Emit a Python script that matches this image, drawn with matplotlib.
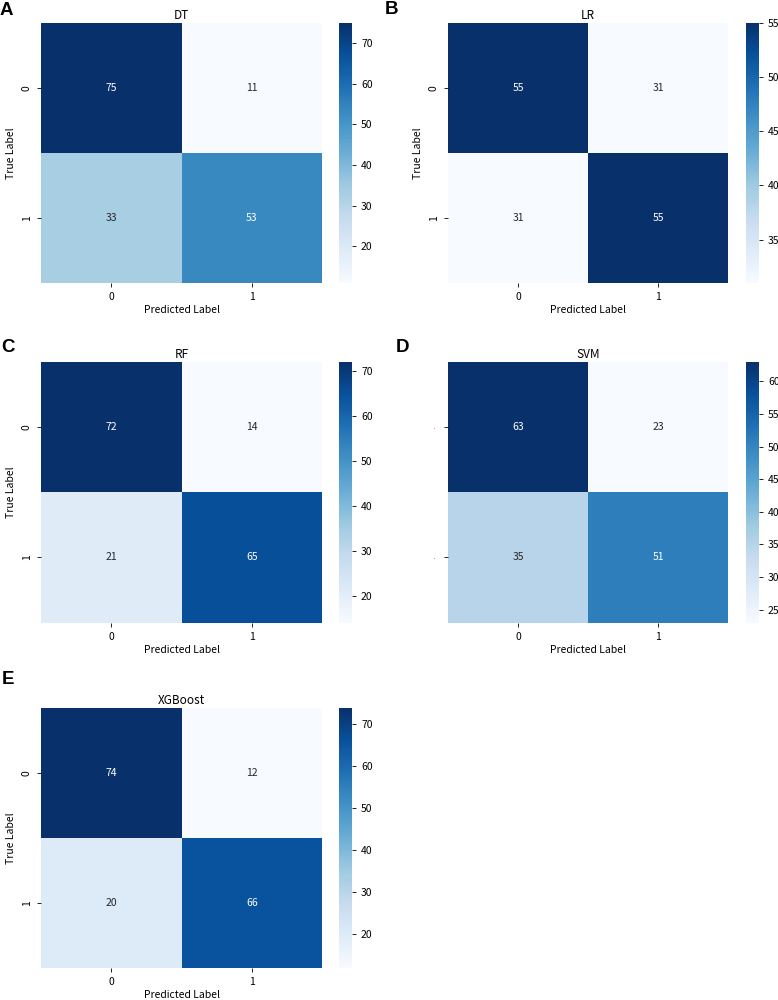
import numpy as np
import matplotlib
matplotlib.use("Agg")
import matplotlib.pyplot as plt
import seaborn as sns

plt.rcParams['font.family'] = ['Noto Sans CJK KR', 'DejaVu Sans']

# confusion matrices
models = ["DT", "LR", "RF", "SVM", "XGBoost"]
letters = ["A", "B", "C", "D", "E"]
cm_dt = [[75, 11], [33, 53]]
cm_lr = [[55, 31], [31, 55]]
cm_rf = [[72, 14], [21, 65]]
cm_svm = [[63, 23], [35, 51]]
cm_xgb = [[74, 12], [20, 66]]
class_labels = ["0", "1"]

matrices = [cm_dt, cm_lr, cm_rf, cm_svm, cm_xgb]

W, H = 778, 1000
fig = plt.figure(figsize=(W / 100, H / 100), dpi=100)

# pixel boxes (left, top, right, bottom) of each heatmap, colorbar x-range, letter pos
hm_boxes = [(41, 22.7, 322, 283), (448, 22.7, 728, 283),
            (41, 361.7, 322, 622.7), (448, 361.7, 728, 622.7),
            (41, 707.7, 322, 968)]
cb_x = [(339, 352), (746, 759), (339, 352), (746, 759), (339, 352)]
letter_pos = [(0, 2), (385, 1), (1, 339), (396, 339), (2, 671)]

def px_axes(x0, y0, x1, y1):
    return fig.add_axes([x0 / W, 1 - y1 / H, (x1 - x0) / W, (y1 - y0) / H])

fs = 7.5
for i, cm in enumerate(matrices):
    x0, y0, x1, y1 = hm_boxes[i]
    ax = px_axes(x0, y0, x1, y1)
    cax = px_axes(cb_x[i][0], y0, cb_x[i][1], y1)
    sns.heatmap(np.array(cm), annot=True, fmt="d", cmap="Blues", ax=ax, cbar_ax=cax,
                xticklabels=class_labels, yticklabels=class_labels,
                annot_kws={"fontsize": fs})
    ax.set_title(models[i], fontsize=fs + 1, pad=3)
    ax.set_xlabel("Predicted Label", fontsize=fs, labelpad=2)
    ax.tick_params(axis="both", labelsize=fs, length=3, width=0.6)
    ax.set_yticklabels(class_labels, rotation=90, va="center")
    if models[i] == "SVM":
        # y tick labels are clipped to dots in the original
        ax.set_yticklabels(["'", "'"], fontsize=3)
        ax.set_ylabel("")
    else:
        ax.set_ylabel("True Label", fontsize=fs)
    cax.tick_params(labelsize=fs, length=3, width=0.6)
    fig.text(letter_pos[i][0] / W, 1 - letter_pos[i][1] / H, letters[i],
             fontsize=13.5, fontweight="bold", family="Liberation Sans",
             ha="left", va="top")

fig.savefig("out.png", dpi=100)
